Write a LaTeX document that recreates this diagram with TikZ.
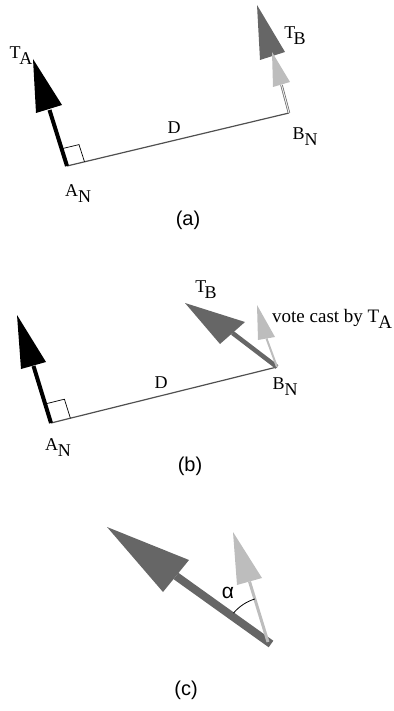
\documentclass[tikz,border=0pt]{standalone}
\usepackage{fontspec}
\setmainfont{Liberation Serif}
\newfontfamily\labsans{Liberation Sans}
\usetikzlibrary{calc}
\definecolor{dgray}{HTML}{666666}
\definecolor{lgray}{HTML}{BDBDBD}
\definecolor{lineg}{HTML}{505050}
\newcommand\SubLab[3][0pt]{#2\kern#1\raisebox{-0.33em}{#3}}
\begin{document}
\begin{tikzpicture}[x=1pt,y=-1pt,
  lbl/.style={inner sep=0pt, font=\fontsize{18}{18}\selectfont},
  txt/.style={inner sep=0pt, anchor=base west, font=\fontsize{19}{19}\selectfont},
  caplbl/.style={inner sep=0pt, font=\labsans\fontsize{20}{20}\selectfont},
  dline/.style={draw=lineg, line width=1.2pt},
  sq/.style={draw=black, line width=0.7pt},
  blackshaft/.style={draw=black, line width=4pt},
  darkshaft/.style={draw=dgray, line width=4.5pt},
  lightshaft/.style={draw=lgray, line width=2pt},
  blackhead/.style={fill=black},
  darkhead/.style={fill=dgray},
  lighthead/.style={fill=lgray}]
\useasboundingbox (0,0) rectangle (393,711);

% ---------------- panel (a) ----------------
\coordinate (aAN) at (67,166);
\coordinate (aBN) at (289,113);
\coordinate (aS1) at (61.5,148.8);
\coordinate (aS2) at (79,144.6);
\coordinate (aS3) at (84.5,161.8);
\draw[dline] (aAN) -- (aBN);
\draw[sq] (aS1) -- (aS2) -- (aS3);
% T_A arrow
\coordinate (aTAb) at (49.5,110);
\coordinate (aTAl) at (36,113);
\coordinate (aTAr) at (62,105);
\coordinate (aTAt) at (33,59);
\draw[blackshaft] (aAN) -- (aTAb);
\fill[blackhead] (aTAl) -- (aTAr) -- (aTAt) -- cycle;
% T_B arrows
\coordinate (aTBs) at (281.5,85);
\coordinate (aLl) at (273,87);
\coordinate (aLr) at (290,82);
\coordinate (aLt) at (272,52);
\coordinate (aDl) at (260,60);
\coordinate (aDr) at (285,52);
\coordinate (aDt) at (257,5);
\fill[darkhead] (aDl) -- (aDr) -- (aDt) -- cycle;
\draw[draw=dgray, double=white!85!gray, double distance=1pt, line width=0.7pt] (aBN) -- (aTBs);
\fill[lighthead] (aLl) -- (aLr) -- (aLt) -- cycle;
% labels
\node[lbl] (aTA) at (21,56) {\SubLab[-1pt]{T}{A}};
\node[lbl] (aTB) at (295,36) {\SubLab[-1.5pt]{T}{B}};
\node[lbl] (aANl) at (78,194) {\SubLab{A}{N}};
\node[lbl] (aBNl) at (305,137) {\SubLab{B}{N}};
\node[lbl] (aD) at (174,128) {D};
\node[caplbl] (capa) at (188,220) {(a)};

% ---------------- panel (b) ----------------
\coordinate (bAN) at (51,423);
\coordinate (bBN) at (277,367);
\coordinate (bS1) at (45,404);
\coordinate (bS2) at (64.4,399.2);
\coordinate (bS3) at (70.4,418.2);
\draw[dline] (bAN) -- (bBN);
\draw[sq] (bS1) -- (bS2) -- (bS3);
% T_A arrow
\coordinate (bTAb) at (33.5,366);
\coordinate (bTAl) at (21,369);
\coordinate (bTAr) at (46,362);
\coordinate (bTAt) at (17,315);
\draw[blackshaft] (bAN) -- (bTAb);
\fill[blackhead] (bTAl) -- (bTAr) -- (bTAt) -- cycle;
% T_B arrow (dark)
\coordinate (bDb) at (232.5,333);
\coordinate (bDl) at (220,344);
\coordinate (bDr) at (245,322);
\coordinate (bDt) at (185,303);
\draw[darkshaft] (bBN) -- (bDb);
\fill[darkhead] (bDl) -- (bDr) -- (bDt) -- cycle;
% vote arrow (light)
\coordinate (bLb) at (266.5,338.5);
\coordinate (bLl) at (258,340);
\coordinate (bLr) at (275,337);
\coordinate (bLt) at (257,305);
\draw[lightshaft] (bBN) -- (bLb);
\fill[lighthead] (bLl) -- (bLr) -- (bLt) -- cycle;
% labels
\node[lbl] (bTB) at (206,290) {\SubLab[-1.5pt]{T}{B}};
\node[txt] (bvote) at (272,322) {vote cast by \SubLab[-1pt]{T}{A}};
\node[lbl] (bANl) at (58,448) {\SubLab{A}{N}};
\node[lbl] (bBNl) at (285,387) {\SubLab{B}{N}};
\node[lbl] (bD) at (161,383) {D};
\node[caplbl] (capb) at (190,466) {(b)};

% ---------------- panel (c) ----------------
\coordinate (cP) at (268,642);
\coordinate (cPe) at (271,644);
\coordinate (cDb) at (176,576);
\coordinate (cDl) at (163,592);
\coordinate (cDr) at (189,560);
\coordinate (cDt) at (107,527);
\draw[draw=dgray, line width=8pt] (cPe) -- (cDb);
\fill[darkhead] (cDl) -- (cDr) -- (cDt) -- cycle;
\coordinate (cLb) at (249.5,581.5);
\coordinate (cLl) at (237,585);
\coordinate (cLr) at (262,578);
\coordinate (cLt) at (233,532);
\draw[draw=lgray, line width=3pt] (cP) -- (cLb);
\fill[lighthead] (cLl) -- (cLr) -- (cLt) -- cycle;
\draw[black, line width=0.8pt] ($(cP)+(-140:45)$) arc[start angle=-140, end angle=-107, radius=45];
\node[inner sep=0pt, font=\labsans\fontsize{21}{21}\selectfont] (calpha) at (228,593) {α};
\node[caplbl] (capc) at (186,690) {(c)};
\end{tikzpicture}
\end{document}
